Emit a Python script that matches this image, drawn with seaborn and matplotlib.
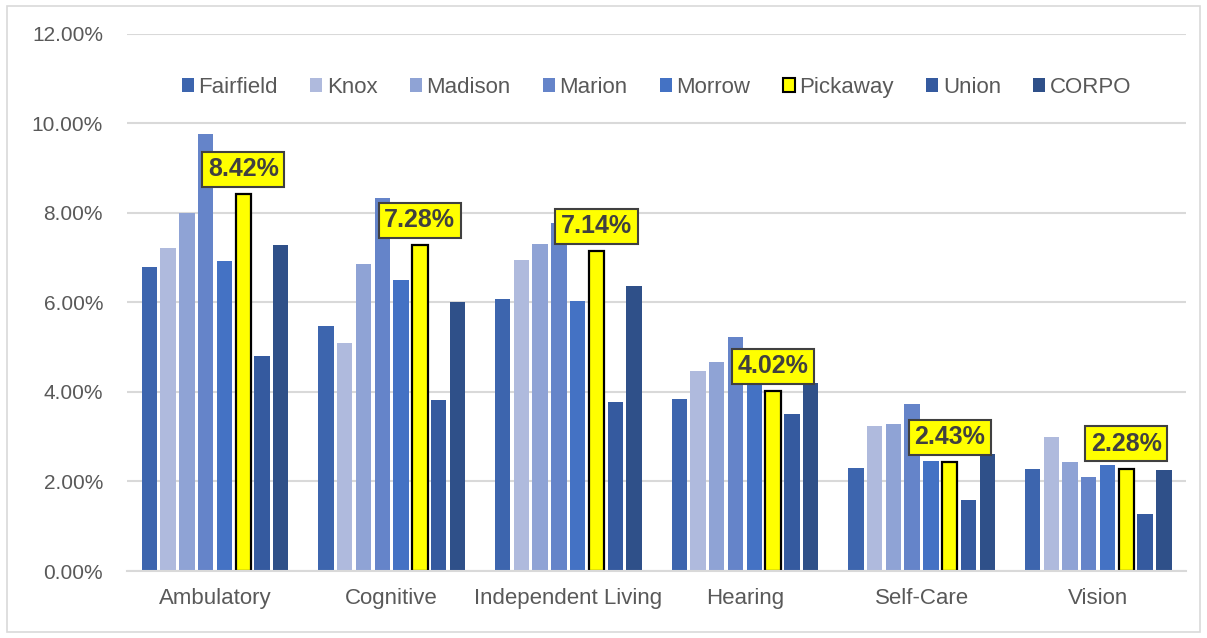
import numpy as np
import pandas as pd
import matplotlib
matplotlib.use("Agg")
import matplotlib.pyplot as plt
import seaborn as sns
from matplotlib.patches import Rectangle, Patch
from matplotlib.ticker import PercentFormatter

categories = ["Ambulatory", "Cognitive", "Independent Living", "Hearing", "Self-Care", "Vision"]
counties = ["Fairfield", "Knox", "Madison", "Marion", "Morrow", "Pickaway", "Union", "CORPO"]

fairfield = [6.79, 5.47, 6.08, 3.84, 2.29, 2.28]
knox = [7.22, 5.09, 6.94, 4.47, 3.23, 2.99]
madison = [7.99, 6.85, 7.31, 4.67, 3.28, 2.44]
marion = [9.77, 8.33, 7.78, 5.23, 3.73, 2.09]
morrow = [6.92, 6.51, 6.03, 4.40, 2.46, 2.36]
pickaway = [8.42, 7.28, 7.14, 4.02, 2.43, 2.28]
union = [4.80, 3.83, 3.77, 3.50, 1.58, 1.27]
corpo = [7.28, 6.01, 6.36, 4.21, 2.61, 2.25]

colors = ["#3D65AE", "#AFBADD", "#8FA3D5", "#6584C9", "#4472C4", "#FFFF00", "#355A9F", "#2F5089"]

series = [fairfield, knox, madison, marion, morrow, pickaway, union, corpo]
df = pd.DataFrame(
    [(c, n, v) for n, vals in zip(counties, series) for c, v in zip(categories, vals)],
    columns=["category", "county", "value"],
)

sns.set_theme(style="white")
plt.rcParams["font.family"] = ["Liberation Sans", "DejaVu Sans"]

fig = plt.figure(figsize=(12.07, 6.38), dpi=100)
ax = fig.add_axes([0.105, 0.105, 0.878, 0.842])

palette = dict(zip(counties, colors))
sns.barplot(data=df, x="category", y="value", hue="county", hue_order=counties,
            order=categories, palette=palette, width=0.85, gap=0.18,
            saturation=1, legend=False, ax=ax)

for name, cont in zip(counties, ax.containers):
    for p in cont:
        if name == "Pickaway":
            p.set_edgecolor("black")
            p.set_linewidth(1.6)
        else:
            p.set_linewidth(0)

# data labels on Pickaway
pick_cont = ax.containers[counties.index("Pickaway")]
for p, v in zip(pick_cont, pickaway):
    ax.annotate(f"{v:.2f}%", xy=(p.get_x() + p.get_width() / 2, v),
                xytext=(0, 18), textcoords="offset points", ha="center", va="center",
                fontsize=18, fontweight="bold", color="#404040",
                bbox=dict(boxstyle="square,pad=0.22", fc="#FFFF00", ec="#404040", lw=1.5))

ax.set_ylim(0, 12)
ax.set_xlim(-0.5, 5.5)
ax.set_yticks(np.arange(0, 12.01, 2))
ax.yaxis.set_major_formatter(PercentFormatter(decimals=2))
ax.grid(axis="y", color="#D9D9D9", linewidth=1.5)
ax.set_axisbelow(True)
for s in ["top", "right", "left"]:
    ax.spines[s].set_visible(False)
ax.spines["bottom"].set_color("#D9D9D9")
ax.spines["bottom"].set_linewidth(1.5)
ax.tick_params(axis="y", labelsize=15, labelcolor="#595959", pad=17, length=0)
ax.tick_params(axis="x", labelsize=16, labelcolor="#595959", pad=12, length=0)
ax.set_xlabel("")
ax.set_ylabel("")

handles = [Patch(facecolor=c, edgecolor="black" if n == "Pickaway" else c,
                 linewidth=1.5 if n == "Pickaway" else 0) for n, c in zip(counties, colors)]
ax.legend(handles, counties, loc="center", bbox_to_anchor=(0.5, 0.9), ncol=8,
          frameon=False, fontsize=16, handlelength=0.55, handleheight=0.55,
          handletextpad=0.2, columnspacing=1.45, labelcolor="#595959")

fig.patches.append(Rectangle((0.006, 0.01), 0.988, 0.98, transform=fig.transFigure,
                             fill=False, ec="#D9D9D9", lw=1.2))

fig.savefig("out.png", dpi=100, facecolor="white")
